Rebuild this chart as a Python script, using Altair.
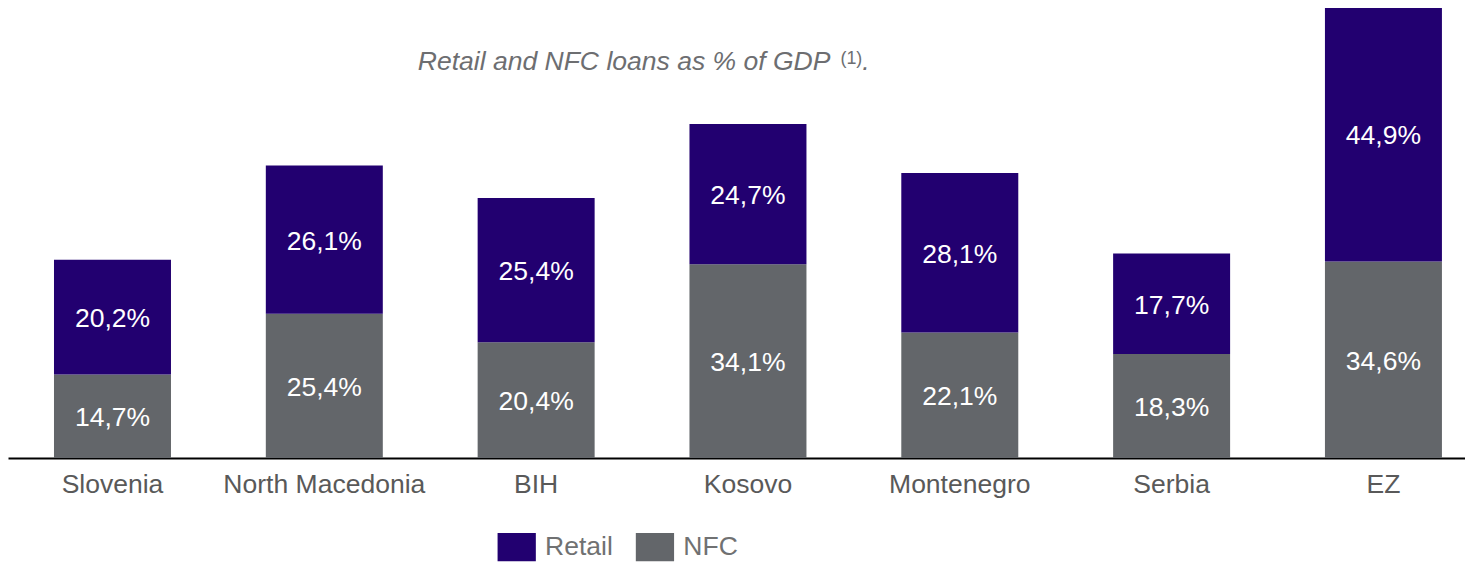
import altair as alt
import pandas as pd

countries = ["Slovenia", "North Macedonia", "BIH", "Kosovo", "Montenegro", "Serbia", "EZ"]
nfc = [14.7, 25.4, 20.4, 34.1, 22.1, 18.3, 34.6]
retail = [20.2, 26.1, 25.4, 24.7, 28.1, 17.7, 44.9]
series = ["Retail", "NFC"]
colors = ["#220070", "#63666A"]
title_text = "Retail and NFC loans as % of GDP"

rows = []
for c, n, r in zip(countries, nfc, retail):
    rows.append({"country": c, "series": "NFC", "value": n, "ord": 0})
    rows.append({"country": c, "series": "Retail", "value": r, "ord": 1})
df = pd.DataFrame(rows)
df["label"] = df["value"].map(lambda v: f"{v:.1f}%".replace(".", ","))

FONT = "Liberation Sans"
FS = 26.67

base = alt.Chart(df).transform_stack(
    stack="value", groupby=["country"], as_=["y0", "y1"],
    sort=[alt.SortField("ord", order="ascending")]
).transform_calculate(mid="(datum.y0 + datum.y1) / 2")

xscale = alt.Scale(paddingInner=0.4477, paddingOuter=0.163, align=0.666, round=False)
xenc = alt.X(
    "country:N", sort=countries, title=None, scale=xscale,
    axis=alt.Axis(labelAngle=0, labelFont=FONT, labelFontSize=FS, labelColor="#595959",
                  domainColor="#000000", domainWidth=2, ticks=False, tickSize=0,
                  labelPadding=14, labelLimit=600, grid=False),
)
yscale = alt.Scale(domain=[0, 78.97], nice=False, zero=True)

bars = base.mark_bar().encode(
    x=xenc,
    y=alt.Y("y0:Q", scale=yscale, axis=None),
    y2="y1:Q",
    color=alt.Color(
        "series:N",
        scale=alt.Scale(domain=series, range=colors),
        legend=alt.Legend(
            title=None, orient="none", direction="horizontal",
            legendX=492, legendY=521,
            symbolType="M-1,-0.737H1V0.737H-1Z", symbolSize=1480,
            symbolStrokeWidth=0, labelFont=FONT, labelFontSize=FS,
            labelColor="#707172", labelOffset=9, columnPadding=22, padding=0,
        ),
    ),
)

labels = base.mark_text(color="white", font=FONT, fontSize=FS, baseline="middle", dy=2).encode(
    x=alt.X("country:N", sort=countries, scale=xscale),
    y=alt.Y("mid:Q", scale=yscale),
    text="label:N",
)

tdf = pd.DataFrame({"t": [title_text], "s": ["(1)"], "d": ["."]})
title = alt.Chart(tdf).mark_text(
    font=FONT, fontSize=FS, fontStyle="italic", color="#6d6e71", align="left", baseline="alphabetic"
).encode(text="t:N", x=alt.value(412), y=alt.value(61))
sup = alt.Chart(tdf).mark_text(
    font=FONT, fontSize=18, color="#6d6e71", align="left", baseline="alphabetic"
).encode(text="s:N", x=alt.value(837), y=alt.value(55))
dot = alt.Chart(tdf).mark_text(
    font=FONT, fontSize=FS, fontStyle="italic", color="#6d6e71", align="left", baseline="alphabetic"
).encode(text="d:N", x=alt.value(859), y=alt.value(61))

chart = alt.layer(bars, labels, title, sup, dot).properties(
    width=1465, height=451,
    autosize=alt.AutoSizeParams(type="none"),
    padding={"left": 0, "top": 0, "right": 0, "bottom": 103},
).configure_view(stroke=None)

chart.save("out.html", embed_options={"renderer": "svg", "actions": False})
